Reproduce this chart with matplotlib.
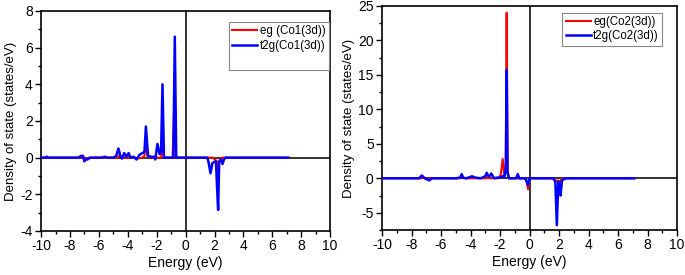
import numpy as np
from matplotlib import pyplot as plt
from matplotlib.ticker import MultipleLocator

plt.rcParams['font.family'] = ['Liberation Sans', 'DejaVu Sans']
plt.rcParams['font.size'] = 9
plt.rcParams['axes.unicode_minus'] = False

# Co1 panel: energies (eV) and DOS values
e1_t2g = [-10.0, -9.7, -9.6, -9.5, -7.4, -7.25, -7.1, -7.0, -6.9, -6.8, -6.6, -5.8, -5.6, -5.4,
          -5.0, -4.8, -4.65, -4.5, -4.4, -4.25, -4.1, -3.95, -3.8, -3.6, -3.4, -3.2, -3.0,
          -2.85, -2.75, -2.6, -2.4, -2.2, -2.1, -1.95, -1.8, -1.7, -1.6, -1.5, -1.4,
          -0.95, -0.85, -0.75, -0.65, -0.55, 1.5, 1.6, 1.72, 1.85, 1.95, 2.1, 2.2, 2.25,
          2.32, 2.45, 2.55, 2.65, 2.75, 7.1]
d1_t2g = [0.0, 0.0, 0.05, 0.0, 0.0, 0.1, 0.1, -0.2, -0.1, -0.1, 0.0, 0.0, 0.05, 0.0,
          0.0, 0.1, 0.5, 0.05, -0.05, 0.25, 0.05, 0.25, 0.0, 0.05, -0.1, 0.15, 0.25,
          0.3, 1.7, 0.1, 0.05, 0.05, -0.1, 0.75, 0.2, 0.3, 4.0, 0.0, 0.0,
          0.0, 0.0, 6.6, 0.0, 0.0, 0.0, -0.3, -0.85, -0.3, -0.25, -0.2, -2.1, -2.85,
          -0.25, -0.1, -0.35, -0.1, 0.0, 0.0]
e1_eg = [-10.0, -7.3, -7.1, -7.0, -6.9, -6.7, -4.7, -4.6, -4.5, -4.0, -3.9, -3.5, -3.4,
         -3.0, -2.85, -2.75, -2.65, -2.5, -1.7, -1.6, -1.5, -0.9, -0.8, -0.7,
         1.9, 2.0, 2.1, 2.15, 2.22, 2.3, 2.4, 2.5, 7.1]
d1_eg = [0.0, 0.0, 0.05, -0.1, -0.05, 0.0, 0.0, 0.1, 0.0, 0.0, 0.05, 0.0, -0.05,
         0.0, 0.1, 1.0, 0.1, 0.0, 0.0, 0.6, 0.0, 0.0, 2.5, 0.0,
         0.0, -0.1, -0.15, -0.2, -1.2, -0.2, -0.05, 0.0, 0.0]

# Co2 panel
e2_t2g = [-10.0, -7.5, -7.3, -7.1, -6.9, -6.8, -6.6, -5.0, -4.7, -4.6, -4.5, -4.3, -4.0,
          -3.9, -3.7, -3.3, -3.0, -2.9, -2.8, -2.7, -2.6, -2.4, -2.2, -2.0, -1.8, -1.7,
          -1.6, -1.55, -1.5, -1.4, -0.9, -0.8, -0.7, -0.3, -0.2, -0.1, 0.0, 1.6, 1.75,
          1.85, 1.95, 2.05, 2.1, 2.2, 2.35, 2.5, 7.1]
d2_t2g = [0.0, 0.0, 0.4, 0.0, -0.2, -0.3, 0.0, 0.0, 0.1, 0.6, 0.1, 0.0, 0.2,
          0.3, 0.1, 0.0, 0.3, 0.8, 0.3, 0.3, 0.7, 0.0, 0.1, 0.1, 0.3, 0.2,
          1.5, 15.7, 1.0, 0.0, 0.0, 0.6, 0.0, 0.0, -0.4, -1.0, 0.0, 0.0, -0.5,
          -6.8, -0.5, -1.0, -2.5, -0.3, -0.1, 0.0, 0.0]
e2_eg = [-10.0, -7.3, -7.2, -7.1, -6.9, -6.7, -4.7, -4.6, -4.5, -2.9, -2.8, -2.7, -2.1,
         -1.95, -1.82, -1.7, -1.62, -1.55, -1.48, -1.4, -0.3, -0.2, -0.1, 0.0,
         1.6, 1.75, 1.85, 1.95, 2.05, 2.15, 2.3, 7.1]
d2_eg = [0.0, 0.0, 0.1, 0.0, -0.1, 0.0, 0.0, 0.2, 0.0, 0.0, 0.3, 0.0, 0.0,
         0.5, 2.8, 0.4, 1.0, 24.0, 1.0, 0.0, 0.0, -0.4, -1.6, 0.0,
         0.0, -0.3, -0.4, -0.3, -0.6, -0.2, 0.0, 0.0]

dpi = 100
fig = plt.figure(figsize=(685 / dpi, 275 / dpi), dpi=dpi)
ax1 = fig.add_axes([0.060, 0.160, 0.422, 0.800])
ax2 = fig.add_axes([0.5577, 0.1636, 0.4307, 0.815])

panels = [
    (ax1, e1_eg, d1_eg, e1_t2g, d1_t2g, 'eg (Co1(3d))', 't2g(Co1(3d))', (-4, 8), 2, 1,
     (0.995, 0.95), True),
    (ax2, e2_eg, d2_eg, e2_t2g, d2_t2g, 'eg(Co2(3d))', 't2g(Co2(3d))', (-7.5, 25), 5, 2.5,
     (0.95, 0.97), False),
]
for ax, xe, ye, xt, yt, lab_e, lab_t, ylim, ymaj, ymin, anchor, blank in panels:
    ax.axhline(0, color='#222222', lw=1.3, zorder=1)
    ax.axvline(0, color='#222222', lw=1.3, zorder=1)
    ax.plot(xe, ye, color='red', lw=1.5, label=lab_e, zorder=2)
    ax.plot(xt, yt, color='blue', lw=1.8, label=lab_t, zorder=3)
    if blank:
        # Origin leaves an empty row at the bottom of this legend box
        ax.plot([], [], ' ', label=' ')
    ax.set_xlim(-10, 10)
    ax.set_ylim(*ylim)
    ax.xaxis.set_major_locator(MultipleLocator(2))
    ax.xaxis.set_minor_locator(MultipleLocator(1))
    ax.yaxis.set_major_locator(MultipleLocator(ymaj))
    ax.yaxis.set_minor_locator(MultipleLocator(ymin))
    ax.tick_params(which='both', direction='out', top=False, right=False, labelsize=10, width=1)
    ax.tick_params(which='major', length=4, pad=2)
    ax.tick_params(which='minor', length=2.5)
    for s in ax.spines.values():
        s.set_linewidth(1.2)
    ax.set_xlabel('Energy (eV)', fontsize=10, labelpad=2)
    ax.set_ylabel('Density of state (states/eV)', fontsize=9.5, labelpad=2)
    leg = ax.legend(loc='upper right', bbox_to_anchor=anchor, borderaxespad=0,
                    fontsize=8.3, fancybox=False, framealpha=1, edgecolor='#888888',
                    handlelength=2.2, borderpad=0.3, labelspacing=0.2, handletextpad=0.2)
    leg.get_frame().set_linewidth(0.8)

fig.savefig('out.png', dpi=dpi)
